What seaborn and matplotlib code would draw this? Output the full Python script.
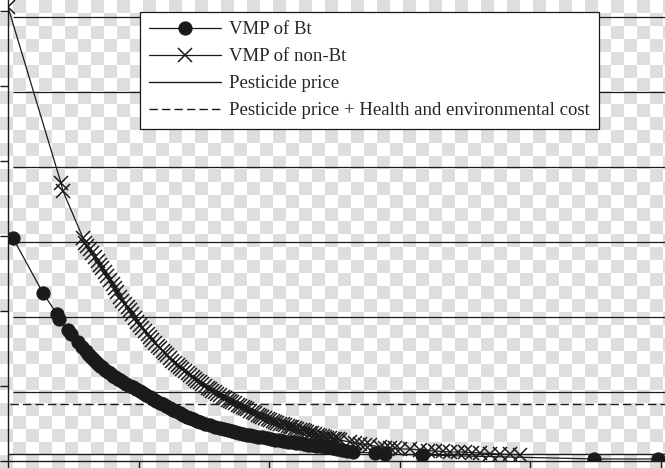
import numpy as np
import matplotlib
matplotlib.use("Agg")
import matplotlib.pyplot as plt
import seaborn as sns

# VMP curves (x and y in tick units, ticks unlabeled in the crop)
bt_x = [0.038, 0.268, 0.375, 0.391, 0.460, 0.483, 0.536, 0.567, 0.598, 0.613,
        0.628, 0.644, 0.659, 0.674, 0.690, 0.705, 0.720, 0.743, 0.766, 0.782,
        0.805, 0.820, 0.843, 0.858, 0.881, 0.904, 0.935, 0.958, 0.981, 1.011,
        1.034, 1.057, 1.088, 1.111, 1.134, 1.165, 1.188, 1.211, 1.241, 1.264,
        1.287, 1.318, 1.341, 1.372, 1.395, 1.418, 1.448, 1.471, 1.510, 1.548,
        1.586, 1.625, 1.655, 1.686, 1.716, 1.739, 1.770, 1.801, 1.831, 1.854,
        1.885, 1.916, 1.946, 1.985, 2.015, 2.046, 2.077, 2.107, 2.146, 2.176,
        2.207, 2.238, 2.268, 2.299, 2.330, 2.360, 2.391, 2.429, 2.460, 2.490,
        2.521, 2.559, 2.598, 2.644, 2.812, 2.889, 3.172, 4.490, 4.981]
bt_y = [2.973, 2.240, 1.960, 1.893, 1.747, 1.693, 1.587, 1.520, 1.467, 1.427,
        1.400, 1.373, 1.347, 1.320, 1.293, 1.267, 1.253, 1.213, 1.187, 1.173,
        1.133, 1.120, 1.093, 1.080, 1.053, 1.027, 1.000, 0.987, 0.960, 0.933,
        0.907, 0.880, 0.853, 0.827, 0.800, 0.773, 0.760, 0.733, 0.707, 0.680,
        0.667, 0.640, 0.613, 0.587, 0.573, 0.560, 0.533, 0.520, 0.493, 0.480,
        0.453, 0.440, 0.427, 0.413, 0.400, 0.387, 0.373, 0.360, 0.347, 0.347,
        0.333, 0.320, 0.320, 0.307, 0.293, 0.280, 0.280, 0.267, 0.253, 0.253,
        0.240, 0.240, 0.227, 0.213, 0.213, 0.200, 0.200, 0.187, 0.187, 0.173,
        0.160, 0.147, 0.133, 0.120, 0.107, 0.093, 0.080, 0.027, 0.027]

nonbt_x = [0.000, 0.406, 0.421, 0.575, 0.590, 0.609, 0.628, 0.647, 0.667, 0.686,
           0.705, 0.724, 0.743, 0.762, 0.782, 0.801, 0.820, 0.839, 0.858, 0.877,
           0.897, 0.916, 0.935, 0.954, 0.973, 0.992, 1.011, 1.030, 1.050, 1.069,
           1.088, 1.107, 1.126, 1.146, 1.165, 1.184, 1.203, 1.222, 1.241, 1.260,
           1.280, 1.299, 1.318, 1.337, 1.356, 1.376, 1.395, 1.414, 1.433, 1.452,
           1.471, 1.490, 1.510, 1.529, 1.548, 1.567, 1.586, 1.605, 1.625, 1.644,
           1.663, 1.682, 1.701, 1.720, 1.739, 1.759, 1.778, 1.797, 1.816, 1.835,
           1.854, 1.874, 1.893, 1.912, 1.931, 1.950, 1.969, 1.989, 2.008, 2.027,
           2.046, 2.065, 2.084, 2.104, 2.123, 2.142, 2.161, 2.180, 2.199, 2.218,
           2.238, 2.257, 2.276, 2.295, 2.314, 2.333, 2.352, 2.372, 2.391, 2.410,
           2.429, 2.448, 2.467, 2.487, 2.506, 2.525, 2.544, 2.621, 2.659, 2.697,
           2.736, 2.774, 2.851, 2.889, 2.927, 2.966, 3.004, 3.080, 3.157, 3.218,
           3.272, 3.333, 3.387, 3.448, 3.502, 3.556, 3.617, 3.694, 3.770, 3.847,
           3.923]
nonbt_y = [6.053, 3.707, 3.600, 2.973, 2.907, 2.867, 2.827, 2.773, 2.720, 2.667,
           2.613, 2.567, 2.520, 2.467, 2.413, 2.360, 2.307, 2.247, 2.187, 2.140,
           2.093, 2.053, 2.013, 1.960, 1.907, 1.860, 1.813, 1.773, 1.733, 1.693,
           1.653, 1.613, 1.573, 1.540, 1.507, 1.473, 1.440, 1.407, 1.373, 1.340,
           1.307, 1.280, 1.253, 1.227, 1.200, 1.173, 1.147, 1.120, 1.093, 1.073,
           1.053, 1.027, 1.000, 0.980, 0.960, 0.940, 0.920, 0.900, 0.880, 0.860,
           0.840, 0.820, 0.800, 0.787, 0.773, 0.753, 0.733, 0.720, 0.707, 0.687,
           0.667, 0.653, 0.640, 0.620, 0.600, 0.587, 0.573, 0.560, 0.547, 0.533,
           0.520, 0.507, 0.493, 0.487, 0.480, 0.467, 0.453, 0.447, 0.440, 0.427,
           0.413, 0.407, 0.400, 0.387, 0.373, 0.367, 0.360, 0.347, 0.333, 0.327,
           0.320, 0.313, 0.307, 0.300, 0.293, 0.287, 0.280, 0.253, 0.240, 0.227,
           0.220, 0.213, 0.187, 0.180, 0.173, 0.167, 0.160, 0.160, 0.147, 0.140,
           0.133, 0.127, 0.120, 0.120, 0.120, 0.113, 0.107, 0.100, 0.093, 0.087,
           0.080]

pesticide_price = 0.093
price_plus_cost = 0.76

labels = ["VMP of Bt", "VMP of non-Bt", "Pesticide price",
          "Pesticide price + Health and environmental cost"]

sns.set_style("ticks")
plt.rcParams["font.family"] = ["Liberation Serif", "DejaVu Serif"]

fig = plt.figure(figsize=(6.65, 4.68), dpi=100)

# checkered background like the source image
bg = fig.add_axes([0, 0, 1, 1])
rows, cols = np.indices((36, 52))
checker = ((rows + cols) % 2).astype(float)
bg.imshow(checker, cmap=matplotlib.colors.ListedColormap(["#ffffff", "#dedede"]),
          extent=(0, 52 * 13, 36 * 13, 0), interpolation="nearest")
bg.set_xlim(0, 665)
bg.set_ylim(468, 0)
bg.axis("off")

ax = fig.add_axes([8 / 665, 7 / 468, 657 / 665, 461 / 468])
ax.patch.set_alpha(0)
ink = "#1a1a1a"

# horizontal grid (sits a bit above the tick marks in the original)
ax.hlines([0.92, 1.92, 2.92, 3.92, 4.92, 5.92], 0.04, 5.2, color=ink, lw=0.9, zorder=1)

sns.lineplot(x=bt_x, y=bt_y, ax=ax, color=ink, lw=0.9, marker="o", markersize=9.5,
             markeredgecolor=ink, label=labels[0], zorder=4)
sns.lineplot(x=nonbt_x, y=nonbt_y, ax=ax, color=ink, lw=0.9, marker="x", markersize=9.5,
             markeredgewidth=1.1, markeredgecolor=ink, label=labels[1], zorder=3)
ax.axhline(pesticide_price, color=ink, lw=1.0, label=labels[2], zorder=2)
ax.axhline(price_plus_cost, xmin=0.003, color=ink, lw=1.0, linestyle=(0, (6, 3)),
           label=labels[3], zorder=2)

ax.set_xlim(0, 657 / 130.5)
ax.set_ylim(0, 461 / 75)
ax.set_xticks(range(6))
ax.set_yticks(range(7))
ax.set_xticklabels([])
ax.set_yticklabels([])
ax.tick_params(axis="both", direction="out", length=6, width=1.0, color=ink)
ax.set_xlabel("")
ax.set_ylabel("")
sns.despine(ax=ax, top=True, right=True)
for s in ("left", "bottom"):
    ax.spines[s].set_color(ink)
    ax.spines[s].set_linewidth(1.0)

leg = ax.legend(loc="upper left", bbox_to_anchor=(132 / 657, 449 / 461), borderaxespad=0,
                fontsize=13.5, handlelength=3.8, handletextpad=0.45, labelspacing=0.52,
                borderpad=0.5, fancybox=False, framealpha=1, edgecolor=ink,
                facecolor="white")
leg.get_frame().set_linewidth(0.9)
leg.set_zorder(10)

fig.savefig("out.png", dpi=100)
